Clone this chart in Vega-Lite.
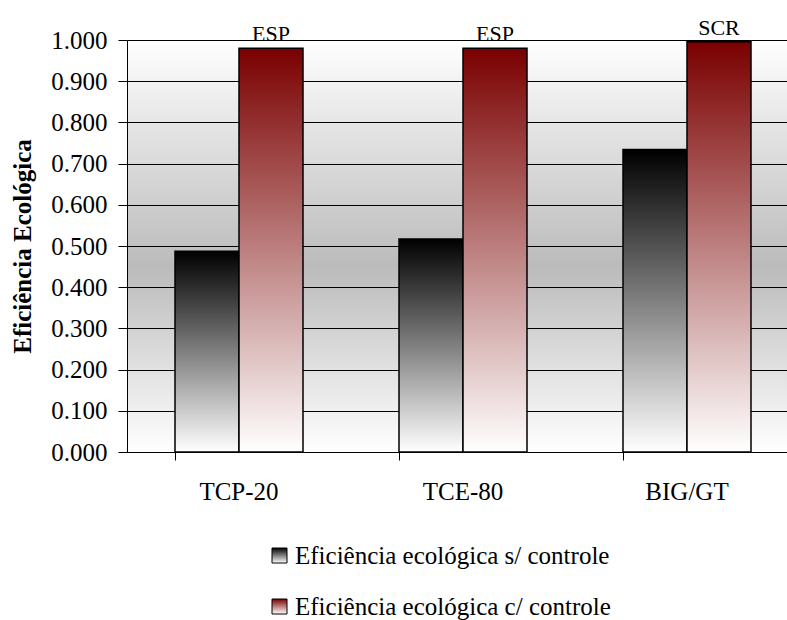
{
  "$schema": "https://vega.github.io/schema/vega-lite/v6.json",
  "width": 672,
  "height": 412,
  "autosize": {"type": "none"},
  "padding": {"left": 127, "top": 40, "right": 0, "bottom": 168},
  "background": "white",
  "config": {
    "font": "Times New Roman",
    "axis": {"labelFont": "Times New Roman", "titleFont": "Times New Roman"},
    "legend": {"labelFont": "Times New Roman"},
    "text": {"font": "Times New Roman"},
    "view": {
      "stroke": null,
      "fill": {
        "gradient": "linear", "x1": 0, "y1": 0, "x2": 0, "y2": 1,
        "stops": [
          {"offset": 0, "color": "#ffffff"},
          {"offset": 0.55, "color": "#bbbbbb"},
          {"offset": 1, "color": "#ffffff"}
        ]
      }
    }
  },
  "data": {
    "values": [
      {"grupo": "TCP-20", "serie": "Eficiência ecológica s/ controle", "valor": 0.487, "rotulo": ""},
      {"grupo": "TCP-20", "serie": "Eficiência ecológica c/ controle", "valor": 0.980, "rotulo": "ESP"},
      {"grupo": "TCE-80", "serie": "Eficiência ecológica s/ controle", "valor": 0.517, "rotulo": ""},
      {"grupo": "TCE-80", "serie": "Eficiência ecológica c/ controle", "valor": 0.980, "rotulo": "ESP"},
      {"grupo": "BIG/GT", "serie": "Eficiência ecológica s/ controle", "valor": 0.734, "rotulo": ""},
      {"grupo": "BIG/GT", "serie": "Eficiência ecológica c/ controle", "valor": 0.996, "rotulo": "SCR"}
    ]
  },
  "encoding": {
    "x": {
      "field": "grupo", "type": "nominal",
      "sort": ["TCP-20", "TCE-80", "BIG/GT"],
      "scale": {"paddingInner": 0.4286, "paddingOuter": 0.2143},
      "axis": {
        "title": null, "labelAngle": 0, "labelFontSize": 25, "labelColor": "#000000",
        "labelFont": "Times New Roman",
        "domainColor": "#000000", "tickColor": "#000000", "tickSize": 8,
        "bandPosition": 0, "labelPadding": 19, "grid": false
      }
    },
    "xOffset": {
      "field": "serie", "type": "nominal",
      "sort": ["Eficiência ecológica s/ controle", "Eficiência ecológica c/ controle"],
      "scale": {"paddingInner": 0, "paddingOuter": 0, "domain": ["Eficiência ecológica s/ controle", "Eficiência ecológica c/ controle"]}
    },
    "y": {
      "field": "valor", "type": "quantitative",
      "scale": {"domain": [0, 1], "nice": false},
      "axis": {
        "title": "Eficiência Ecológica",
        "titleFont": "Times New Roman", "titleFontSize": 25, "titleFontWeight": "bold",
        "titleColor": "#000000", "titlePadding": 15,
        "values": [0, 0.1, 0.2, 0.3, 0.4, 0.5, 0.6, 0.7, 0.8, 0.9, 1.0],
        "format": ".3f",
        "labelFontSize": 25, "labelColor": "#000000", "labelFont": "Times New Roman",
        "labelPadding": 11, "tickSize": 9, "tickColor": "#000000",
        "domainColor": "#000000",
        "grid": true, "gridColor": "#000000", "gridWidth": 1
      }
    }
  },
  "layer": [
    {
      "mark": {"type": "bar", "stroke": "#000000", "strokeWidth": 1.5},
      "encoding": {
        "fill": {
          "field": "serie", "type": "nominal",
          "sort": ["Eficiência ecológica s/ controle", "Eficiência ecológica c/ controle"],
          "scale": {
            "domain": ["Eficiência ecológica s/ controle", "Eficiência ecológica c/ controle"],
            "range": [
              {"expr": "{gradient: 'linear', x1: 0, y1: 0, x2: 0, y2: 1, stops: [{offset: 0, color: '#000000'}, {offset: 1, color: '#ffffff'}]}"},
              {"expr": "{gradient: 'linear', x1: 0, y1: 0, x2: 0, y2: 1, stops: [{offset: 0, color: '#7a0000'}, {offset: 1, color: '#ffffff'}]}"}
            ]
          },
          "legend": {
            "title": null,
            "orient": "none",
            "legendX": 140,
            "legendY": 503,
            "direction": "vertical",
            "symbolType": "square",
            "symbolSize": 225,
            "symbolStrokeWidth": 1,
            "symbolStrokeColor": "#000000",
            "symbolOpacity": 1,
            "labelFont": "Times New Roman",
            "labelFontSize": 25,
            "labelColor": "#000000",
            "labelOffset": 3,
            "labelLimit": 0,
            "rowPadding": 25
          }
        }
      }
    },
    {
      "transform": [{"filter": "datum.rotulo !== ''"}],
      "mark": {"type": "text", "font": "Times New Roman", "fontSize": 22, "color": "#000000", "baseline": "alphabetic", "align": "center", "dy": -7},
      "encoding": {
        "text": {"field": "rotulo", "type": "nominal"}
      }
    }
  ]
}
